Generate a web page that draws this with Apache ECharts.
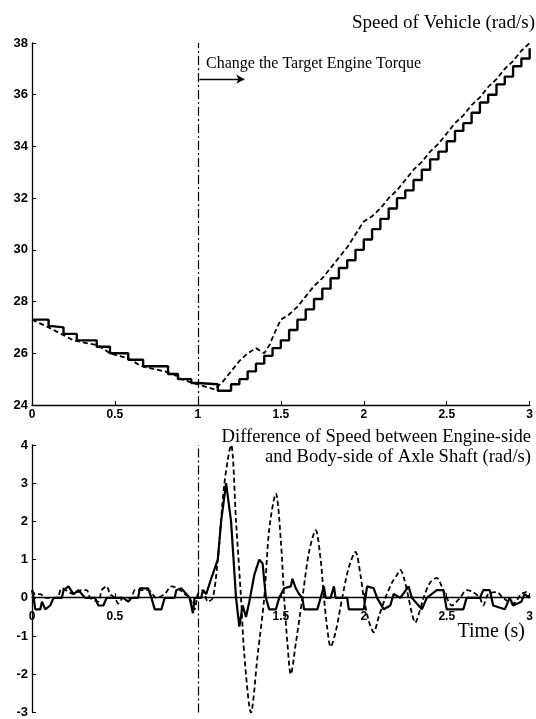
<!DOCTYPE html>
<html>
<head>
<meta charset="utf-8">
<script src="https://cdn.jsdelivr.net/npm/echarts@6/dist/echarts.min.js"></script>
<style>
  html, body { margin: 0; padding: 0; background: #fff; }
  #chart { width: 536px; height: 719px; }
</style>
</head>
<body>
<div id="chart"></div>
<script>
// time (s) where the target engine torque changes
const torqueChangeTime = 1;

// axis ranges
const speedRange = [24, 38];
const diffRange = [-3, 4];

// speed of vehicle (rad/s): solid = stepped, dashed = smooth
const speedSolid = [
  [0, 27.3], [0.1, 27.05], [0.12, 27.0], [0.19, 26.75], [0.27, 26.5], [0.39, 26.25],
  [0.47, 26.0], [0.58, 25.75], [0.67, 25.5], [0.82, 25.2], [0.88, 25.0], [0.96, 24.85],
  [1.0, 24.8], [1.12, 24.55], [1.2, 24.8], [1.25, 25.0], [1.3, 25.3], [1.35, 25.6],
  [1.4, 25.9], [1.45, 26.2], [1.5, 26.5], [1.55, 26.9], [1.6, 27.3], [1.65, 27.7],
  [1.7, 28.1], [1.75, 28.5], [1.8, 28.9], [1.85, 29.3], [1.9, 29.6], [1.95, 30.0],
  [2.0, 30.4], [2.05, 30.8], [2.1, 31.2], [2.15, 31.6], [2.2, 32.0], [2.25, 32.3],
  [2.3, 32.7], [2.35, 33.1], [2.4, 33.5], [2.45, 33.8], [2.5, 34.2], [2.55, 34.6],
  [2.6, 34.9], [2.65, 35.3], [2.7, 35.7], [2.75, 36.0], [2.8, 36.4], [2.85, 36.7],
  [2.9, 37.1], [2.95, 37.4], [3.0, 37.8]
];
const speedDashed = [
  [0, 27.3], [0.1, 27.0], [0.19, 26.7], [0.25, 26.5], [0.4, 26.3], [0.47, 26.0],
  [0.58, 25.8], [0.66, 25.5], [0.8, 25.3], [0.85, 25.2], [0.9, 25.0], [0.97, 24.85],
  [1.0, 24.8], [1.1, 24.6], [1.15, 24.9], [1.2, 25.3], [1.25, 25.7], [1.3, 26.0],
  [1.35, 26.2], [1.4, 26.0], [1.43, 26.3], [1.47, 26.9], [1.5, 27.3], [1.55, 27.5],
  [1.6, 27.8], [1.65, 28.2], [1.7, 28.6], [1.75, 28.9], [1.8, 29.3], [1.85, 29.7],
  [1.9, 30.1], [1.95, 30.6], [2.0, 31.1], [2.05, 31.3], [2.1, 31.6], [2.15, 32.0],
  [2.2, 32.3], [2.25, 32.7], [2.3, 33.1], [2.35, 33.4], [2.4, 33.8], [2.45, 34.1],
  [2.5, 34.5], [2.55, 34.9], [2.6, 35.2], [2.65, 35.6], [2.7, 35.9], [2.75, 36.3],
  [2.8, 36.6], [2.85, 37.0], [2.9, 37.3], [2.95, 37.7], [3.0, 38.0]
];

// difference of speed between engine-side and body-side of axle shaft (rad/s)
const diffSolid = [
  [0, 0.2], [0.01, 0], [0.02, -0.3], [0.05, -0.3], [0.06, -0.1], [0.08, -0.3], [0.11, -0.2],
  [0.13, 0], [0.18, 0], [0.19, 0.2], [0.22, 0.3], [0.25, 0.1], [0.28, 0.2], [0.3, 0.1],
  [0.32, 0], [0.38, 0], [0.4, -0.2], [0.43, -0.2], [0.45, 0], [0.55, 0], [0.58, -0.1],
  [0.6, 0], [0.64, 0], [0.65, 0.25], [0.7, 0.25], [0.72, 0], [0.74, -0.3], [0.78, -0.3],
  [0.8, 0], [0.86, 0], [0.87, 0.2], [0.9, 0.25], [0.93, 0.1], [0.95, 0], [0.97, -0.4],
  [0.98, 0], [1.02, 0], [1.03, 0.2], [1.05, 0.1], [1.08, 0.5], [1.12, 1.0], [1.14, 2.0],
  [1.17, 3.0], [1.2, 2.0], [1.23, 0.0], [1.25, -0.75], [1.27, -0.2], [1.29, -0.5],
  [1.31, -0.1], [1.34, 0.6], [1.37, 1.0], [1.39, 0.9], [1.41, 0], [1.43, -0.3],
  [1.47, -0.3], [1.49, 0], [1.52, 0.25], [1.56, 0.3], [1.57, 0.5], [1.59, 0.25],
  [1.61, 0.1], [1.63, 0], [1.64, -0.3], [1.72, -0.3], [1.74, 0], [1.76, 0.3], [1.77, 0],
  [1.8, 0], [1.82, 0.3], [1.83, 0], [1.9, 0], [1.91, -0.3], [2.0, -0.3], [2.02, 0.3],
  [2.06, 0.25], [2.08, 0], [2.12, -0.3], [2.16, -0.2], [2.18, 0.1], [2.22, 0], [2.27, 0.3],
  [2.29, 0], [2.35, -0.3], [2.38, 0], [2.44, 0.2], [2.48, 0.2], [2.5, -0.3], [2.6, -0.3],
  [2.62, 0], [2.7, 0], [2.72, 0.2], [2.76, 0.2], [2.78, -0.2], [2.85, -0.3], [2.88, 0],
  [2.9, -0.2], [2.95, -0.1], [2.97, 0.1], [3.0, 0]
];
const diffDashed = [
  [0, 0.2], [0.02, 0.1], [0.05, 0.1], [0.08, 0], [0.15, 0], [0.18, 0.25], [0.25, 0.1],
  [0.3, 0.2], [0.33, 0.2], [0.35, 0], [0.4, -0.1], [0.42, 0.2], [0.45, 0.3], [0.47, 0.1],
  [0.5, 0], [0.52, -0.15], [0.55, 0], [0.6, 0], [0.62, 0.2], [0.7, 0.2], [0.75, 0],
  [0.8, 0.1], [0.84, 0.3], [0.88, 0.25], [0.92, 0.1], [0.95, 0], [0.98, -0.3], [1.0, 0.1],
  [1.03, 0.2], [1.06, -0.1], [1.09, 0], [1.12, 1.0], [1.16, 3.0], [1.2, 4.0], [1.23, 2.0],
  [1.26, 0], [1.28, -1.5], [1.32, -3.0], [1.36, -1.5], [1.4, 0], [1.43, 1.8], [1.47, 2.73],
  [1.5, 1.5], [1.52, 0], [1.54, -1.2], [1.56, -2.0], [1.59, -1.2], [1.63, 0], [1.67, 1.2],
  [1.71, 1.77], [1.74, 1.0], [1.76, 0], [1.78, -0.8], [1.8, -1.28], [1.83, -0.9], [1.87, 0],
  [1.91, 0.8], [1.95, 1.2], [1.98, 0.6], [2.0, 0], [2.03, -0.6], [2.06, -0.9], [2.09, -0.5],
  [2.13, 0], [2.17, 0.4], [2.2, 0.6], [2.22, 0.73], [2.24, 0.55], [2.27, 0], [2.29, -0.4],
  [2.31, -0.65], [2.34, -0.3], [2.36, 0], [2.4, 0.4], [2.44, 0.52], [2.47, 0.3], [2.5, 0],
  [2.53, -0.2], [2.58, 0], [2.62, 0.2], [2.66, 0.15], [2.7, 0], [2.72, -0.2], [2.75, 0.1],
  [2.8, 0.15], [2.84, 0], [2.9, -0.15], [2.95, 0.1], [2.98, 0.15], [3.0, 0]
];

const serif = "'Liberation Serif', 'DejaVu Serif', serif";
const sans = "'Liberation Sans', Arial, sans-serif";

const chart = echarts.init(document.getElementById("chart"), null, { renderer: "canvas" });

const bottomGrid = { left: 32, right: 4, top: 445, height: 269 };
// lift the lower time axis up to the zero line of the difference axis
const zeroOffset = -bottomGrid.height * (0 - diffRange[0]) / (diffRange[1] - diffRange[0]);

const xAxisBase = {
  type: "value",
  min: 0,
  max: 3,
  interval: 0.5,
  splitLine: { show: false },
  axisLine: { onZero: false, lineStyle: { color: "#000", width: 1.3 } },
  axisTick: { inside: true, length: 4, lineStyle: { color: "#000" } },
  axisLabel: { color: "#000", fontFamily: sans, fontWeight: "bold", fontSize: 12, margin: 4 },
};
const yAxisBase = {
  type: "value",
  splitLine: { show: false },
  axisLine: { show: true, onZero: false, lineStyle: { color: "#000", width: 1.3 } },
  axisTick: { show: true, inside: true, length: 4, lineStyle: { color: "#000" } },
  axisLabel: { color: "#000", fontFamily: sans, fontWeight: "bold", fontSize: 13, margin: 4 },
};
const eventLine = {
  silent: true,
  symbol: "none",
  label: { show: false },
  lineStyle: { color: "#000", width: 1.2, type: [9, 3, 2, 3] },
  data: [{ xAxis: torqueChangeTime }],
};
const textFont = (size) => size + "px " + serif;

chart.setOption({
  animation: false,
  backgroundColor: "#fff",
  graphic: [
    {
      type: "text",
      x: 535,
      y: 14,
      style: { text: "Speed of Vehicle (rad/s)", font: textFont(19), fill: "#000", align: "right", verticalAlign: "top" },
    },
    {
      type: "text",
      x: 206,
      y: 56,
      style: { text: "Change the Target Engine Torque", font: textFont(16), fill: "#000", verticalAlign: "top" },
    },
    {
      type: "text",
      x: 531,
      y: 427,
      style: {
        text: "Difference of Speed between Engine-side\nand Body-side of Axle Shaft (rad/s)",
        font: textFont(18.6),
        lineHeight: 20,
        fill: "#000",
        align: "right",
        verticalAlign: "top",
      },
    },
    {
      type: "text",
      x: 525,
      y: 622,
      style: { text: "Time (s)", font: textFont(20), fill: "#000", align: "right", verticalAlign: "top" },
    },
  ],
  grid: [
    { left: 32, right: 4, top: 43, height: 362 },
    bottomGrid,
  ],
  xAxis: [
    Object.assign({}, xAxisBase, { gridIndex: 0 }),
    Object.assign({}, xAxisBase, {
      gridIndex: 1,
      offset: zeroOffset,
      axisLabel: Object.assign({}, xAxisBase.axisLabel, {
        margin: 13,
        formatter: (v) => (v === torqueChangeTime ? "" : String(v)),
      }),
    }),
  ],
  yAxis: [
    Object.assign({}, yAxisBase, { gridIndex: 0, min: speedRange[0], max: speedRange[1], interval: 2 }),
    Object.assign({}, yAxisBase, { gridIndex: 1, min: diffRange[0], max: diffRange[1], interval: 1 }),
  ],
  series: [
    {
      type: "line",
      xAxisIndex: 0,
      yAxisIndex: 0,
      step: "end",
      data: speedSolid,
      showSymbol: false,
      lineStyle: { color: "#000", width: 2.4 },
      markLine: eventLine,
    },
    {
      type: "line",
      xAxisIndex: 0,
      yAxisIndex: 0,
      data: speedDashed,
      showSymbol: false,
      lineStyle: { color: "#000", width: 1.8, type: [5, 3] },
      markLine: {
        silent: true,
        symbol: ["none", "arrow"],
        symbolSize: [7, 8],
        label: { show: false },
        lineStyle: { color: "#000", width: 1.3, type: "solid" },
        data: [[{ coord: [1.01, 36.6] }, { coord: [1.28, 36.6] }]],
      },
    },
    {
      type: "line",
      xAxisIndex: 1,
      yAxisIndex: 1,
      data: diffSolid,
      showSymbol: false,
      lineStyle: { color: "#000", width: 2.2 },
      markLine: eventLine,
    },
    {
      type: "line",
      xAxisIndex: 1,
      yAxisIndex: 1,
      data: diffDashed,
      showSymbol: false,
      smooth: 0.3,
      lineStyle: { color: "#000", width: 1.8, type: [5, 3] },
    },
  ],
});
</script>
</body>
</html>
